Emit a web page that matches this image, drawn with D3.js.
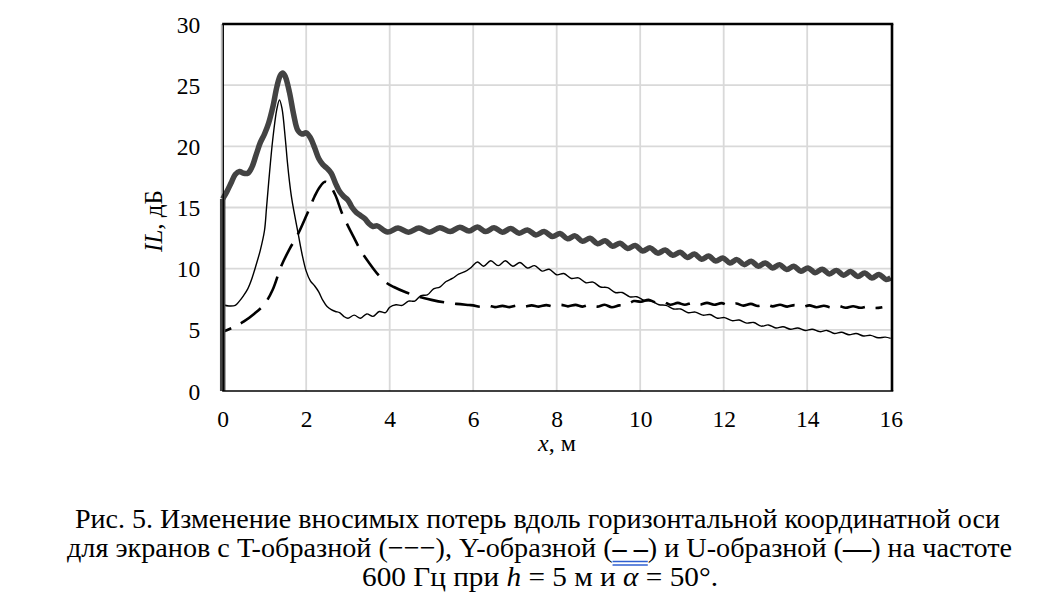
<!DOCTYPE html>
<html>
<head>
<meta charset="utf-8">
<script src="https://cdn.jsdelivr.net/npm/d3@7/dist/d3.min.js"></script>
<style>
    body { margin: 0; background: #fff; }
    svg text { font-family: "Liberation Serif", "Times New Roman", serif; fill: #000; }
</style>
</head>
<body>
<svg id="chart" width="1054" height="600"></svg>
<script>

// Tick values of both axes
var xTicks = [0, 2, 4, 6, 8, 10, 12, 14, 16];
var yTicks = [0, 5, 10, 15, 20, 25, 30];

// T-shaped screen (thin solid line), [x, IL]
var seriesT = [
    [0, 7.05], [0.15, 6.95], [0.3, 7.0], [0.4, 7.35], [0.5, 7.8], [0.6, 8.35], [0.7, 9.2],
    [0.8, 10.3], [0.9, 11.5], [1.0, 13.1], [1.05, 15.0], [1.1, 17.0], [1.2, 20.6], [1.3, 23.1],
    [1.36, 23.8], [1.42, 23.1], [1.5, 20.6], [1.55, 18.7], [1.6, 17.1], [1.65, 15.8], [1.7, 14.8],
    [1.8, 13.0], [1.9, 11.2], [2.0, 9.8], [2.1, 9.0], [2.2, 8.6], [2.3, 8.1], [2.4, 7.4],
    [2.5, 6.9], [2.6, 6.65], [2.7, 6.5], [2.8, 6.4], [2.9, 6.1], [3.0, 5.95], [3.15, 6.2],
    [3.3, 5.95], [3.45, 6.3], [3.6, 6.1], [3.75, 6.5], [3.9, 6.4], [4.0, 6.85], [4.15, 7.05],
    [4.3, 7.0], [4.45, 7.35], [4.6, 7.35], [4.75, 7.8], [4.9, 7.85], [5.05, 8.35], [5.2, 8.5],
    [5.35, 8.95], [5.5, 9.2], [5.65, 9.55], [5.8, 9.75], [5.95, 10.1], [6.1, 10.55], [6.25, 10.2],
    [6.42, 10.65], [6.6, 10.25], [6.77, 10.65], [6.95, 10.2], [7.12, 10.5], [7.3, 10.05],
    [7.47, 10.25], [7.65, 9.8], [7.82, 9.95], [8.0, 9.5], [8.17, 9.6], [8.35, 9.2], [8.52, 9.25],
    [8.7, 8.85], [8.87, 8.9], [9.05, 8.5], [9.22, 8.45], [9.4, 8.05], [9.57, 8.05], [9.75, 7.7],
    [9.92, 7.7], [10.1, 7.4], [10.27, 7.35], [10.45, 7.05], [10.62, 7.0], [10.8, 6.7],
    [10.97, 6.7], [11.15, 6.4], [11.32, 6.45], [11.5, 6.2], [11.67, 6.25], [11.85, 5.95],
    [12.02, 6.0], [12.2, 5.75], [12.37, 5.8], [12.55, 5.55], [12.72, 5.6], [12.9, 5.3],
    [13.07, 5.4], [13.25, 5.15], [13.42, 5.25], [13.6, 5.05], [13.77, 5.15], [13.95, 4.95],
    [14.12, 5.05], [14.3, 4.85], [14.47, 4.95], [14.65, 4.7], [14.82, 4.8], [15.0, 4.6],
    [15.17, 4.7], [15.35, 4.5], [15.52, 4.55], [15.7, 4.35], [15.87, 4.4], [16.0, 4.3]
];

// Y-shaped screen (dashed line)
var seriesY = [
    [0, 4.85], [0.25, 5.2], [0.5, 5.67], [0.75, 6.3], [1.0, 7.1], [1.2, 8.3], [1.4, 10.2],
    [1.6, 11.6], [1.8, 12.8], [2.0, 14.3], [2.1, 15.1], [2.2, 15.9], [2.33, 16.7], [2.45, 17.1],
    [2.55, 16.9], [2.7, 16.0], [2.85, 14.6], [3.0, 13.5], [3.15, 12.5], [3.3, 11.5], [3.5, 10.5],
    [3.7, 9.6], [3.9, 8.9], [4.1, 8.5], [4.4, 8.05], [4.7, 7.7], [5.0, 7.45], [5.3, 7.25],
    [5.6, 7.12], [5.9, 7.03], [6.0, 7.0], [6.17, 6.88], [6.35, 6.98], [6.52, 6.86], [6.7, 6.96],
    [6.87, 6.86], [7.05, 6.98], [7.22, 6.88], [7.4, 7.0], [7.57, 6.9], [7.75, 7.02], [7.92, 6.92],
    [8.1, 7.04], [8.27, 6.92], [8.45, 7.04], [8.62, 6.9], [8.8, 7.05], [8.97, 6.9], [9.15, 7.05],
    [9.32, 6.85], [9.5, 7.0], [9.67, 7.05], [9.85, 7.35], [10.02, 7.3], [10.2, 7.45],
    [10.37, 7.25], [10.55, 7.3], [10.72, 7.05], [10.9, 7.2], [11.07, 7.05], [11.25, 7.2],
    [11.42, 7.05], [11.6, 7.2], [11.77, 7.05], [11.95, 7.18], [12.12, 7.0], [12.3, 7.15],
    [12.47, 6.98], [12.65, 7.12], [12.82, 6.95], [13.0, 7.08], [13.17, 6.92], [13.35, 7.05],
    [13.52, 6.9], [13.7, 7.02], [13.87, 6.87], [14.05, 7.0], [14.22, 6.85], [14.4, 6.97],
    [14.57, 6.83], [14.75, 6.95], [14.92, 6.8], [15.1, 6.93], [15.27, 6.8], [15.45, 6.9],
    [15.62, 6.78], [15.8, 6.85]
];

// U-shaped screen (thick grey line); the first pair is the rise along the left edge
var seriesU = [
    [0, 0], [0, 15.7], [0.1, 16.3], [0.2, 17.0], [0.3, 17.7], [0.4, 17.95], [0.5, 17.8],
    [0.6, 17.8], [0.7, 18.3], [0.8, 19.3], [0.9, 20.3], [1.0, 21.0], [1.1, 21.9], [1.2, 23.2],
    [1.3, 24.9], [1.38, 25.8], [1.44, 26.0], [1.5, 25.7], [1.6, 24.4], [1.7, 22.6], [1.8, 21.3],
    [1.9, 21.0], [2.0, 21.1], [2.1, 20.7], [2.2, 19.9], [2.3, 19.0], [2.4, 18.5], [2.5, 18.2],
    [2.6, 17.8], [2.7, 17.0], [2.8, 16.3], [2.9, 15.9], [3.0, 15.6], [3.1, 15.0], [3.2, 14.6],
    [3.3, 14.35], [3.4, 14.1], [3.5, 13.7], [3.6, 13.45], [3.7, 13.5], [3.95, 13.0], [4.2, 13.32],
    [4.45, 12.98], [4.7, 13.32], [4.95, 12.98], [5.2, 13.34], [5.45, 13.03], [5.68, 13.39],
    [5.9, 13.07], [6.1, 13.41], [6.3, 13.03], [6.5, 13.35], [6.7, 12.98], [6.9, 13.28],
    [7.1, 12.9], [7.3, 13.17], [7.5, 12.76], [7.7, 13.03], [7.9, 12.62], [8.08, 12.88],
    [8.26, 12.44], [8.44, 12.68], [8.62, 12.24], [8.8, 12.48], [8.98, 12.04], [9.16, 12.28],
    [9.34, 11.84], [9.52, 12.08], [9.7, 11.65], [9.88, 11.89], [10.06, 11.45], [10.24, 11.7],
    [10.42, 11.27], [10.6, 11.52], [10.78, 11.09], [10.96, 11.34], [11.13, 10.92], [11.3, 11.19],
    [11.47, 10.77], [11.64, 11.03], [11.81, 10.62], [11.98, 10.88], [12.15, 10.47], [12.32, 10.74],
    [12.49, 10.33], [12.66, 10.61], [12.83, 10.2], [13.0, 10.47], [13.17, 10.06], [13.34, 10.33],
    [13.51, 9.93], [13.68, 10.2], [13.85, 9.79], [14.02, 10.06], [14.19, 9.67], [14.36, 9.96],
    [14.53, 9.57], [14.7, 9.86], [14.87, 9.47], [15.04, 9.76], [15.21, 9.36], [15.38, 9.64],
    [15.55, 9.24], [15.72, 9.52], [15.89, 9.12], [16.0, 9.25]
];

// Caption lines
var captionLine1 = "Рис. 5. Изменение вносимых потерь вдоль горизонтальной координатной оси";
var captionLine2 = [
    { t: "для экранов с T-образной (−−−), Y-образной (" },
    { t: "– –", bold: true, mark: true },
    { t: ") и U-образной (" },
    { t: "—", bold: true },
    { t: ") на частоте" }
];
var captionLine3 = [
    { t: "600 Гц при " }, { t: "h", italic: true }, { t: " = 5 м и " },
    { t: "α", italic: true }, { t: " = 50°." }
];

var serif = "'Liberation Serif', 'Times New Roman', serif";
var svg = d3.select("#chart");

// Plot area in pixels
var plotLeft = 222.7, plotRight = 890.7, plotTop = 24, plotBottom = 391;

var x = d3.scaleLinear().domain([0, 16]).range([plotLeft, plotRight]);
var y = d3.scaleLinear().domain([0, 30]).range([plotBottom, plotTop]);

// Gridlines (inner ones only, the border is drawn later)
var grid = svg.append("g").attr("class", "grid");
grid.selectAll(".vgrid").data(xTicks.slice(1, -1)).enter()
    .append("line")
    .attr("x1", function (d) { return x(d); })
    .attr("x2", function (d) { return x(d); })
    .attr("y1", plotTop)
    .attr("y2", plotBottom)
    .attr("stroke", "#d9d9d9")
    .attr("stroke-width", 1.8);
grid.selectAll(".hgrid").data(yTicks.slice(1, -1)).enter()
    .append("line")
    .attr("x1", plotLeft)
    .attr("x2", plotRight)
    .attr("y1", function (d) { return y(d); })
    .attr("y2", function (d) { return y(d); })
    .attr("stroke", "#d9d9d9")
    .attr("stroke-width", 1.8);

// Grey vertical axis line just outside the plot edge
svg.append("line")
    .attr("x1", plotLeft - 1).attr("x2", plotLeft - 1)
    .attr("y1", plotTop).attr("y2", plotBottom)
    .attr("stroke", "#bdbdbd")
    .attr("stroke-width", 1.8);

// Line generators: smooth for the curves, straight for the edge rise
var line = d3.line()
    .x(function (d) { return x(d[0]); })
    .y(function (d) { return y(d[1]); })
    .curve(d3.curveCatmullRom.alpha(0.5));
var straight = d3.line()
    .x(function (d) { return x(d[0]); })
    .y(function (d) { return y(d[1]); });

svg.append("path")
    .datum(seriesT)
    .attr("d", line)
    .attr("fill", "none")
    .attr("stroke", "#000")
    .attr("stroke-width", 1.4);

svg.append("path")
    .datum(seriesY)
    .attr("d", line)
    .attr("fill", "none")
    .attr("stroke", "#000")
    .attr("stroke-width", 2.6)
    .attr("stroke-dasharray", "25,11")
    .attr("stroke-dashoffset", 16);

var uGroup = svg.append("g")
    .attr("fill", "none")
    .attr("stroke", "#434343")
    .attr("stroke-width", 5.5)
    .attr("stroke-linejoin", "round");
uGroup.append("path").datum(seriesU.slice(0, 2)).attr("d", straight);
uGroup.append("path").datum(seriesU.slice(1)).attr("d", line);

// Plot border: heavy top and right, lighter bottom and left
svg.append("line").attr("x1", plotLeft - 0.5).attr("x2", plotRight + 2.6)
    .attr("y1", plotTop).attr("y2", plotTop)
    .attr("stroke", "#000").attr("stroke-width", 2.6);
svg.append("line").attr("x1", plotRight + 1.3).attr("x2", plotRight + 1.3)
    .attr("y1", plotTop).attr("y2", plotBottom)
    .attr("stroke", "#000").attr("stroke-width", 2.6);
svg.append("line").attr("x1", plotLeft - 0.5).attr("x2", plotRight + 2.6)
    .attr("y1", plotBottom).attr("y2", plotBottom)
    .attr("stroke", "#000").attr("stroke-width", 1.5);
svg.append("line").attr("x1", plotLeft + 0.6).attr("x2", plotLeft + 0.6)
    .attr("y1", plotTop).attr("y2", plotBottom)
    .attr("stroke", "#000").attr("stroke-width", 1.3);

// Axes, only for their tick labels
var xAxis = svg.append("g")
    .attr("transform", "translate(0," + plotBottom + ")")
    .call(d3.axisBottom(x).tickValues(xTicks).tickSize(0).tickPadding(0).tickFormat(d3.format("d")));
xAxis.select(".domain").remove();
xAxis.selectAll("text")
    .attr("y", 36)
    .attr("dy", null)
    .style("font-family", serif)
    .style("font-size", "23.5px");

var yAxis = svg.append("g")
    .attr("transform", "translate(" + plotLeft + ",0)")
    .call(d3.axisLeft(y).tickValues(yTicks).tickSize(0).tickPadding(0).tickFormat(d3.format("d")));
yAxis.select(".domain").remove();
yAxis.selectAll("text")
    .attr("x", -22.5)
    .attr("dy", "0.34em")
    .style("font-family", serif)
    .style("font-size", "23.5px");

// Axis titles
var xTitle = svg.append("text")
    .attr("x", 557).attr("y", 451)
    .attr("text-anchor", "middle")
    .style("font-family", serif)
    .style("font-size", "24px");
xTitle.append("tspan").style("font-style", "italic").text("x");
xTitle.append("tspan").text(", м");

var yTitle = svg.append("text")
    .attr("transform", "translate(162,221) rotate(-90)")
    .attr("text-anchor", "middle")
    .style("font-family", serif)
    .style("font-size", "25px");
yTitle.append("tspan").style("font-style", "italic").text("IL");
yTitle.append("tspan").text(", дБ");

// Caption, squeezed to the width of the original lines
function addLine(parts, x0, x1, baseline) {
    var t = svg.append("text")
        .attr("x", x0)
        .attr("y", baseline)
        .attr("textLength", x1 - x0)
        .attr("lengthAdjust", "spacingAndGlyphs")
        .style("font-family", serif)
        .style("font-size", "28px");
    parts.forEach(function (p) {
        t.append("tspan")
            .style("font-weight", p.bold ? "bold" : null)
            .style("font-style", p.italic ? "italic" : null)
            .text(p.t);
    });
    return t;
}

addLine([{ t: captionLine1 }], 75, 1000, 528);
var line2 = addLine(captionLine2, 67, 1012, 557);
addLine(captionLine3, 362, 718, 586);

// Blue double underline below the marked legend glyphs of the second line
var before = captionLine2[0].t.length;
var node = line2.node();
var ux0 = node.getStartPositionOfChar(before).x;
var ux1 = node.getEndPositionOfChar(before + captionLine2[1].t.length - 1).x;
[561.5, 565].forEach(function (yy) {
    svg.append("line")
        .attr("x1", ux0).attr("x2", ux1)
        .attr("y1", yy).attr("y2", yy)
        .attr("stroke", "#2f5fd0")
        .attr("stroke-width", 1.3);
});

</script>
</body>
</html>
